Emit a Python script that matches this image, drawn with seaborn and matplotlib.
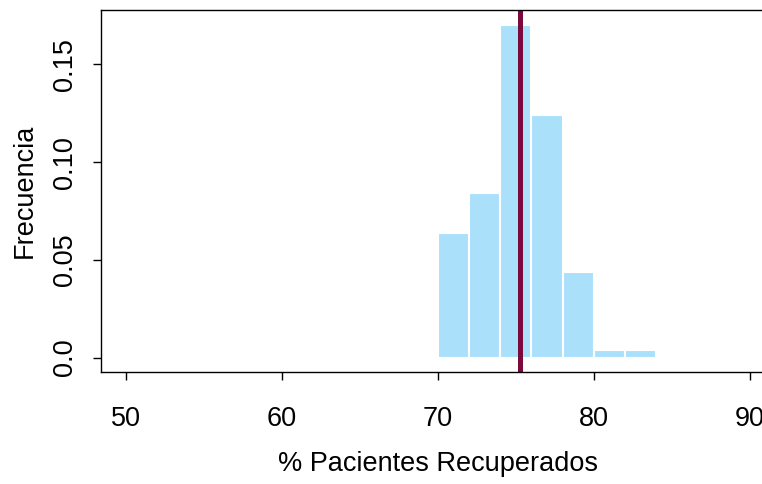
import numpy as np
import pandas as pd
import matplotlib
matplotlib.use("Agg")
import matplotlib.pyplot as plt
import seaborn as sns

# Histogram bins (% recovered patients) and their densities
bin_edges = [70, 72, 74, 76, 78, 80, 82, 84]
densities = [0.064, 0.084, 0.170, 0.124, 0.044, 0.004, 0.004]
mean_value = 75.25

x_ticks = [50, 60, 70, 80, 90]
y_ticks = [0.0, 0.05, 0.10, 0.15]
y_tick_labels = ["0.0", "0.05", "0.10", "0.15"]

df = pd.DataFrame({
    "mid": [(a + b) / 2 for a, b in zip(bin_edges[:-1], bin_edges[1:])],
    "dens": densities,
})

sns.set_style("ticks")
plt.rcParams["font.family"] = ["Liberation Sans", "DejaVu Sans"]
plt.rcParams["text.color"] = "black"
plt.rcParams["axes.labelcolor"] = "black"
plt.rcParams["xtick.color"] = "black"
plt.rcParams["ytick.color"] = "black"

fig = plt.figure(figsize=(7.62, 4.84), dpi=100)
ax = fig.add_axes([0.1325, 0.232, 0.884, 0.748])

sns.histplot(data=df, x="mid", weights="dens", bins=bin_edges, stat="count",
             color="#ABE0FB", edgecolor="white", linewidth=1.5, alpha=1, ax=ax)
ax.axvline(mean_value, color="#7A0A3E", linewidth=3.6)

ax.set_xlim(48.4, 91.6)
ax.set_ylim(-0.0072, 0.178)
ax.set_xticks(x_ticks)
ax.set_yticks(y_ticks)
ax.set_yticklabels(y_tick_labels, rotation=90, va="center")
ax.tick_params(axis="both", labelsize=19.5, length=5.5, width=1, direction="out")
ax.tick_params(axis="x", pad=19)
ax.tick_params(axis="y", pad=11)

for s in ax.spines.values():
    s.set_linewidth(1)
    s.set_color("black")
ax.spines["right"].set_visible(False)

ax.set_xlabel("% Pacientes Recuperados", fontsize=19.5, labelpad=14)
ax.set_ylabel("Frecuencia", fontsize=19.5, labelpad=10)

fig.savefig("out.png", dpi=100)
